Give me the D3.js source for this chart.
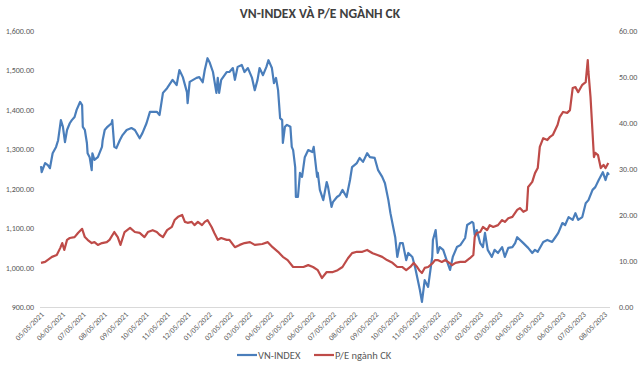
<!DOCTYPE html>
<html><head><meta charset="utf-8">
<script src="https://cdn.jsdelivr.net/npm/d3@7"></script>
<style>
body{margin:0;background:#fff;}
svg text{font-family:Carlito,"Liberation Sans Narrow","Open Sans",sans-serif;}
</style></head>
<body><svg id="c" width="640" height="378"></svg>
<script>
const title = "VN-INDEX VÀ P/E NGÀNH CK";
const seriesNames = ["VN-INDEX", "P/E ngành CK"];
const leftTicks = [900,1000,1100,1200,1300,1400,1500,1600];
const rightTicks = [0,10,20,30,40,50,60];
const xTickDates = ["2021-05-05","2021-06-05","2021-07-05","2021-08-05","2021-09-05","2021-10-05","2021-11-05","2021-12-05",
 "2022-01-05","2022-02-05","2022-03-05","2022-04-05","2022-05-05","2022-06-05","2022-07-05","2022-08-05","2022-09-05","2022-10-05","2022-11-05","2022-12-05",
 "2023-01-05","2023-02-05","2023-03-05","2023-04-05","2023-05-05","2023-06-05","2023-07-05","2023-08-05"];

const vnDates = ["2021-05-05","2021-05-06","2021-05-11","2021-05-15","2021-05-18","2021-05-22","2021-05-27","2021-05-30","2021-06-03","2021-06-06","2021-06-09","2021-06-12","2021-06-16","2021-06-19","2021-06-23","2021-06-26","2021-07-01","2021-07-04","2021-07-05","2021-07-08","2021-07-11","2021-07-12","2021-07-15","2021-07-18","2021-07-19","2021-07-22","2021-07-27","2021-08-02","2021-08-03","2021-08-06","2021-08-10","2021-08-16","2021-08-17","2021-08-20","2021-08-23","2021-08-28","2021-09-01","2021-09-07","2021-09-14","2021-09-19","2021-09-26","2021-09-30","2021-10-06","2021-10-11","2021-10-21","2021-10-25","2021-10-30","2021-11-05","2021-11-13","2021-11-19","2021-11-23","2021-11-28","2021-12-04","2021-12-05","2021-12-08","2021-12-18","2021-12-22","2021-12-27","2021-12-30",
 "2022-01-03","2022-01-06","2022-01-11","2022-01-16","2022-01-18","2022-01-20","2022-01-23","2022-01-31","2022-02-04","2022-02-09","2022-02-12","2022-02-16","2022-02-22","2022-02-26","2022-03-03","2022-03-09","2022-03-13","2022-03-17","2022-03-20","2022-03-25","2022-03-30","2022-04-02","2022-04-07","2022-04-10","2022-04-13","2022-04-16","2022-04-19","2022-04-22","2022-04-23","2022-04-26","2022-04-29","2022-05-04","2022-05-06","2022-05-08","2022-05-11","2022-05-12","2022-05-15","2022-05-18","2022-05-21","2022-05-25","2022-05-30","2022-06-05","2022-06-07","2022-06-12","2022-06-13","2022-06-16","2022-06-21","2022-06-26","2022-06-28","2022-07-03","2022-07-05","2022-07-11","2022-07-15","2022-07-19","2022-07-25","2022-07-30","2022-08-02","2022-08-09","2022-08-13","2022-08-18","2022-08-24","2022-08-28","2022-09-04","2022-09-09","2022-09-15","2022-09-19","2022-09-24","2022-09-27","2022-10-01","2022-10-04","2022-10-07","2022-10-11","2022-10-15","2022-10-20","2022-10-23","2022-10-29","2022-11-02","2022-11-05","2022-11-09","2022-11-12","2022-11-16","2022-11-21","2022-11-27","2022-11-28","2022-12-02","2022-12-05","2022-12-08","2022-12-13","2022-12-18","2022-12-23","2022-12-27",
 "2023-01-02","2023-01-07","2023-01-14","2023-01-17","2023-01-24","2023-01-26","2023-01-28","2023-01-31","2023-02-05","2023-02-09","2023-02-12","2023-02-16","2023-02-22","2023-02-26","2023-03-03","2023-03-09","2023-03-13","2023-03-18","2023-03-24","2023-03-28","2023-03-31","2023-04-09","2023-04-16","2023-04-22","2023-04-26","2023-04-30","2023-05-08","2023-05-14","2023-05-21","2023-05-25","2023-05-30","2023-06-05","2023-06-09","2023-06-14","2023-06-20","2023-06-24","2023-06-28","2023-07-04","2023-07-09","2023-07-13","2023-07-19","2023-07-23","2023-07-28","2023-08-03","2023-08-07","2023-08-10","2023-08-12"];
const vnValues = [1257,1242,1265,1260,1252,1290,1306,1323,1374,1357,1318,1349,1366,1374,1382,1400,1420,1412,1357,1349,1316,1290,1280,1247,1290,1273,1280,1306,1323,1349,1357,1366,1374,1306,1303,1323,1336,1349,1354,1349,1328,1341,1366,1395,1395,1387,1443,1455,1476,1463,1501,1483,1445,1417,1471,1481,1483,1470,1501,
 1531,1521,1496,1443,1481,1443,1476,1496,1496,1506,1476,1509,1514,1496,1506,1481,1450,1476,1506,1488,1509,1526,1506,1468,1481,1450,1379,1374,1316,1357,1362,1357,1306,1298,1255,1179,1179,1240,1230,1280,1298,1293,1306,1230,1240,1197,1171,1217,1204,1154,1166,1179,1184,1197,1179,1222,1255,1265,1278,1268,1290,1280,1278,1247,1230,1214,1171,1138,1103,1077,1027,1062,1062,1019,1037,1027,1001,976,943,913,968,951,1027,1070,1095,1037,1052,1045,1019,994,1027,
 1052,1057,1075,1108,1116,1113,1083,1095,1062,1052,1088,1045,1027,1045,1037,1052,1027,1050,1052,1062,1077,1062,1050,1037,1045,1040,1065,1070,1065,1075,1088,1113,1108,1128,1121,1138,1121,1128,1163,1171,1197,1204,1222,1242,1222,1240,1235];

const peDates = ["2021-05-05","2021-05-11","2021-05-21","2021-05-28","2021-06-02","2021-06-05","2021-06-08","2021-06-12","2021-06-16","2021-06-23","2021-06-28","2021-07-04","2021-07-08","2021-07-12","2021-07-18","2021-07-22","2021-07-27","2021-08-02","2021-08-09","2021-08-13","2021-08-20","2021-08-25","2021-08-29","2021-09-04","2021-09-12","2021-09-19","2021-09-26","2021-10-03","2021-10-08","2021-10-15","2021-10-21","2021-10-25","2021-10-30","2021-11-05","2021-11-12","2021-11-16","2021-11-21","2021-11-27","2021-12-01","2021-12-05","2021-12-11","2021-12-15","2021-12-20","2021-12-26","2021-12-30",
 "2022-01-03","2022-01-09","2022-01-13","2022-01-18","2022-01-23","2022-01-31","2022-02-04","2022-02-12","2022-02-19","2022-02-26","2022-03-06","2022-03-13","2022-03-24","2022-04-01","2022-04-08","2022-04-16","2022-04-23","2022-04-30","2022-05-08","2022-05-15","2022-05-23","2022-05-30","2022-06-06","2022-06-13","2022-06-19","2022-06-26","2022-07-05","2022-07-12","2022-07-19","2022-07-27","2022-08-02","2022-08-09","2022-08-17","2022-08-24","2022-09-01","2022-09-08","2022-09-15","2022-09-22","2022-09-30","2022-10-07","2022-10-14","2022-10-20","2022-10-26","2022-10-31","2022-11-05","2022-11-08","2022-11-12","2022-11-16","2022-11-21","2022-11-28","2022-12-01","2022-12-05","2022-12-11","2022-12-16","2022-12-20","2022-12-26","2022-12-31",
 "2023-01-07","2023-01-14","2023-01-21","2023-01-26","2023-01-28","2023-01-31","2023-02-05","2023-02-09","2023-02-15","2023-02-19","2023-02-24","2023-03-03","2023-03-09","2023-03-13","2023-03-18","2023-03-24","2023-03-31","2023-04-04","2023-04-09","2023-04-14","2023-04-16","2023-04-22","2023-04-26","2023-04-30","2023-05-03","2023-05-08","2023-05-14","2023-05-18","2023-05-22","2023-05-29","2023-06-01","2023-06-06","2023-06-12","2023-06-16","2023-06-20","2023-06-24","2023-06-28","2023-07-04","2023-07-09","2023-07-12","2023-07-13","2023-07-16","2023-07-21","2023-07-23","2023-07-27","2023-07-31","2023-08-04","2023-08-07","2023-08-11"];
const peValues = [9.6,9.8,10.9,11.3,12.8,13.9,12.4,14.6,15.0,15.2,16.1,17.0,15.2,14.6,13.9,14.1,13.5,13.9,14.1,14.6,16.3,15.2,13.5,16.3,17.2,16.3,16.1,15.2,16.3,16.7,16.3,15.7,15.2,16.7,17.4,18.9,19.6,20.0,18.5,18.3,18.5,17.8,18.5,17.8,18.5,
 18.9,17.4,16.1,14.6,15.0,14.6,14.6,13.0,13.5,13.9,14.1,13.5,13.7,14.1,13.0,12.0,10.9,10.2,8.7,8.7,8.7,9.1,8.7,8.0,6.3,7.6,7.6,8.0,8.7,10.6,11.7,12.0,12.0,12.4,11.7,11.3,10.9,10.2,9.6,8.7,8.7,8.0,8.7,9.6,8.7,8.0,7.4,8.5,8.7,9.6,10.2,10.2,9.8,10.2,9.8,9.1,9.6,
 9.8,9.8,10.6,11.3,15.2,16.1,16.3,17.4,16.7,17.8,17.4,17.8,18.9,18.5,19.3,19.6,21.1,21.5,20.7,21.1,26.1,27.2,29.1,30.2,34.8,36.7,36.3,37.0,37.4,39.6,41.3,42.4,42.2,42.8,47.6,47.8,46.7,48.3,48.9,53.7,51.1,45.7,32.6,33.5,33.0,30.2,30.9,30.2,31.3];

const parse = d3.timeParse("%Y-%m-%d");
const vn = vnDates.map((d,i)=>({date:parse(d), v:vnValues[i]}));
const pe = peDates.map((d,i)=>({date:parse(d), v:peValues[i]}));

const svg = d3.select("#c");
const L = 41, R = 609, T = 31, B = 307;
const x = d3.scaleTime().domain([parse(vnDates[0]), parse(vnDates[vnDates.length-1])]).range([L, R]);
const yL = d3.scaleLinear().domain([900,1600]).range([B, T]);
const yR = d3.scaleLinear().domain([0,60]).range([B, T]);

const labelColor = "#595959";
svg.append("text").attr("x",320).attr("y",18).attr("text-anchor","middle")
  .attr("font-size",13.5).attr("font-weight","bold").attr("fill","#404040").text(title);

// baseline
svg.append("line").attr("x1",L-1).attr("x2",R+1).attr("y1",B+0.5).attr("y2",B+0.5)
  .attr("stroke","#d9d9d9").attr("stroke-width",1);

// left axis
const gl = svg.append("g").attr("transform",`translate(${L-7},0)`)
  .call(d3.axisLeft(yL).tickValues(leftTicks).tickSize(0).tickFormat(d3.format(",.2f")));
gl.select(".domain").remove();
gl.selectAll("text").attr("fill",labelColor).attr("font-size",8).attr("dy","0.32em").attr("x",0);

// right axis
const gr = svg.append("g").attr("transform",`translate(${R+10},0)`)
  .call(d3.axisRight(yR).tickValues(rightTicks).tickSize(0).tickFormat(d3.format(".2f")));
gr.select(".domain").remove();
gr.selectAll("text").attr("fill",labelColor).attr("font-size",8).attr("dy","0.32em").attr("x",0);

// x axis
const gx = svg.append("g").attr("transform",`translate(0,${B})`)
  .call(d3.axisBottom(x).tickValues(xTickDates.map(parse)).tickSize(0).tickFormat(d3.timeFormat("%m/%d/%Y")));
gx.select(".domain").remove();
gx.selectAll("text").attr("fill",labelColor).attr("font-size",7.6)
  .attr("text-anchor","end").attr("dy","0").attr("y",0)
  .attr("transform","translate(3,8) rotate(-45)");

const blue = "#4a7ebb", red = "#be4b48";
svg.append("path").datum(vn).attr("fill","none").attr("stroke",blue).attr("stroke-width",2.2)
  .attr("stroke-linejoin","round").attr("d", d3.line().x(d=>x(d.date)).y(d=>yL(d.v)));
svg.append("path").datum(pe).attr("fill","none").attr("stroke",red).attr("stroke-width",2.2)
  .attr("stroke-linejoin","round").attr("d", d3.line().x(d=>x(d.date)).y(d=>yR(d.v)));

// legend
const leg = [{n:seriesNames[0], c:blue, x:237},{n:seriesNames[1], c:red, x:314}];
leg.forEach(l=>{
  svg.append("line").attr("x1",l.x).attr("x2",l.x+20).attr("y1",355).attr("y2",355).attr("stroke",l.c).attr("stroke-width",2.2);
  svg.append("text").attr("x",l.x+21).attr("y",359).attr("font-size",10.5).attr("fill",labelColor).text(l.n);
});
</script></body></html>
